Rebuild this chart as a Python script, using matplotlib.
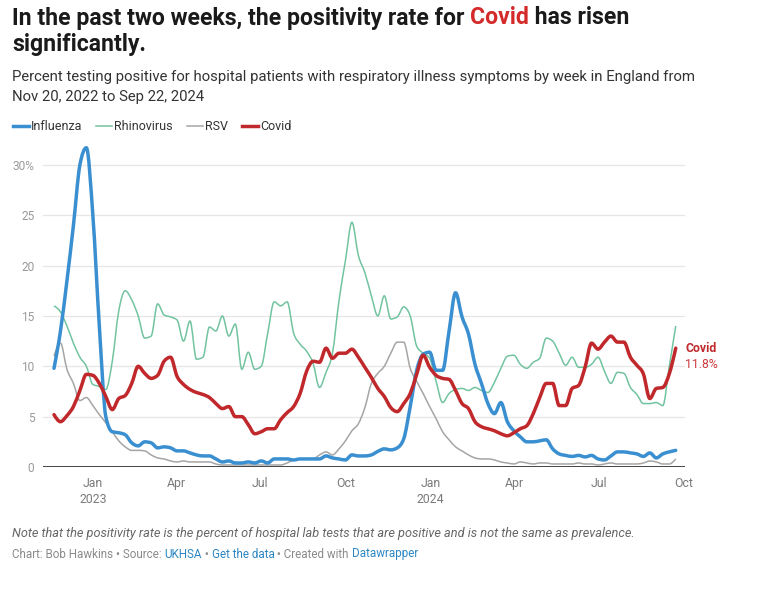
import numpy as np
import pandas as pd
import matplotlib
matplotlib.use("Agg")
import matplotlib.pyplot as plt
import matplotlib.dates as mdates
from matplotlib.lines import Line2D
from matplotlib.path import Path
from matplotlib.patches import PathPatch

plt.rcParams['font.family'] = ['Roboto', 'DejaVu Sans']

# weekly data, Nov 20 2022 .. Sep 22 2024
weeks = pd.date_range("2022-11-20", periods=97, freq="7D")

influenza = [9.8, 13.5, 18.5, 24.0, 30.0, 31.7, 25.0, 14.0, 5.0, 3.5,
             3.4, 3.2, 2.4, 2.1, 2.5, 2.4, 1.9, 2.0, 1.9, 1.6,
             1.6, 1.4, 1.2, 1.1, 1.1, 0.8, 0.5, 0.6, 0.4, 0.4,
             0.5, 0.4, 0.6, 0.4, 0.8, 0.8, 0.8, 0.7, 0.8, 0.8,
             0.8, 0.8, 1.1, 0.9, 0.8, 0.7, 1.2, 1.1, 1.1, 1.2,
             1.55, 1.8, 1.7, 1.9, 2.8, 6.0, 9.6, 11.2, 11.4, 9.6,
             9.6, 13.5, 17.3, 14.9, 13.2, 10.2, 8.3, 6.3, 5.3, 6.4,
             4.5, 3.6, 3.0, 2.5, 2.5, 2.6, 2.7, 1.8, 1.3, 1.15,
             1.05, 1.15, 1.0, 1.15, 0.8, 0.7, 1.1, 1.5, 1.5, 1.4,
             1.3, 1.05, 1.4, 0.9, 1.3, 1.5, 1.65]

rhinovirus = [16.0, 15.4, 14.0, 12.3, 10.9, 10.0, 8.2, 8.0, 7.7, 10.5,
              15.5, 17.5, 16.6, 15.0, 12.8, 13.0, 16.2, 15.1, 14.9, 14.6,
              12.5, 14.5, 10.7, 10.9, 13.9, 13.5, 15.0, 13.0, 14.2, 9.7,
              11.4, 9.7, 10.0, 13.3, 16.4, 16.0, 16.4, 13.3, 12.2, 11.5,
              10.3, 7.9, 9.4, 11.3, 16.5, 20.5, 24.3, 21.0, 19.3, 17.0,
              15.0, 17.0, 14.7, 14.9, 15.9, 15.0, 12.0, 11.3, 10.8, 8.5,
              6.4, 7.3, 7.7, 7.8, 7.6, 7.9, 7.6, 7.4, 8.4, 9.8,
              11.0, 11.1, 10.2, 9.8, 10.4, 10.8, 12.8, 12.5, 11.3, 10.1,
              10.9, 9.9, 9.9, 10.2, 10.9, 9.5, 8.3, 9.4, 9.3, 7.9,
              7.2, 6.3, 6.3, 6.4, 6.1, 10.0, 14.0]

rsv = [11.0, 12.3, 9.7, 8.3, 6.6, 6.9, 6.1, 5.2, 4.4, 3.5,
       2.6, 2.0, 1.65, 1.65, 1.6, 1.2, 0.9, 0.8, 0.6, 0.5,
       0.6, 0.5, 0.5, 0.5, 0.5, 0.3, 0.2, 0.2, 0.2, 0.2,
       0.2, 0.2, 0.2, 0.2, 0.2, 0.2, 0.4, 0.7, 0.8, 0.8,
       0.8, 1.2, 1.5, 1.2, 1.8, 2.6, 3.6, 4.3, 5.9, 8.3,
       9.3, 10.0, 11.3, 12.4, 12.4, 9.8, 8.5, 7.3, 6.0, 4.8,
       3.5, 2.7, 2.0, 1.6, 1.2, 0.9, 0.8, 0.8, 0.7, 0.5,
       0.4, 0.3, 0.5, 0.4, 0.3, 0.4, 0.4, 0.3, 0.3, 0.3,
       0.3, 0.4, 0.3, 0.3, 0.2, 0.3, 0.4, 0.3, 0.3, 0.3,
       0.3, 0.4, 0.6, 0.5, 0.3, 0.3, 0.8]

covid = [5.2, 4.5, 5.1, 6.0, 7.6, 9.2, 9.1, 8.3, 7.0, 5.7,
         6.8, 7.1, 8.3, 10.0, 9.3, 8.8, 9.1, 10.5, 10.9, 9.0,
         8.2, 7.7, 7.4, 7.2, 6.9, 6.3, 5.8, 6.0, 5.0, 5.0,
         4.2, 3.3, 3.5, 3.8, 3.8, 4.7, 5.4, 6.0, 7.3, 9.5,
         10.5, 10.4, 11.8, 10.8, 11.3, 11.3, 11.7, 10.9, 9.9, 8.9,
         7.8, 7.0, 5.9, 5.5, 6.3, 7.3, 9.2, 11.1, 9.9, 9.1,
         8.8, 8.7, 7.6, 6.3, 5.8, 4.5, 4.0, 3.8, 3.6, 3.3,
         3.1, 3.4, 3.8, 4.1, 5.3, 6.9, 8.3, 8.3, 6.1, 6.1,
         7.8, 8.1, 9.9, 12.3, 11.7, 12.4, 13.0, 12.4, 12.4, 10.9,
         10.1, 9.25, 6.8, 7.8, 7.9, 9.25, 11.8]

y_ticks = [0, 5, 10, 15, 20, 25, 30]
y_labels = ["0", "5", "10", "15", "20", "25", "30%"]
x_ticks = ["2023-01-01", "2023-04-01", "2023-07-01", "2023-10-01",
           "2024-01-01", "2024-04-01", "2024-07-01", "2024-10-01"]
x_labels = ["Jan\n2023", "Apr", "Jul", "Oct", "Jan\n2024", "Apr", "Jul", "Oct"]

C_FLU = "#3a8fd1"
C_RHINO = "#72c3a0"
C_RSV = "#a5a5a5"
C_COVID = "#c0282b"

W, H = 769, 600
fig = plt.figure(figsize=(W / 100, H / 100), dpi=100)
fig.patch.set_facecolor("white")


def fx(x):
    return x / W


def fy(y):
    return 1 - y / H


def smooth_line(ax, xs, ys, **kw):
    # monotone cubic curve through the weekly points (like the original chart's curved lines)
    x = np.asarray(xs, float)
    y = np.asarray(ys, float)
    h = np.diff(x)
    s = np.diff(y) / h
    t = np.zeros_like(y)
    for i in range(1, len(y) - 1):
        p = (s[i - 1] * h[i] + s[i] * h[i - 1]) / (h[i - 1] + h[i])
        t[i] = (np.sign(s[i - 1]) + np.sign(s[i])) * min(abs(s[i - 1]), abs(s[i]), 0.5 * abs(p))
    t[0] = (3 * s[0] - t[1]) / 2
    t[-1] = (3 * s[-1] - t[-2]) / 2
    verts = [(x[0], y[0])]
    codes = [Path.MOVETO]
    for i in range(len(x) - 1):
        dx = h[i] / 3
        verts += [(x[i] + dx, y[i] + dx * t[i]), (x[i + 1] - dx, y[i + 1] - dx * t[i + 1]), (x[i + 1], y[i + 1])]
        codes += [Path.CURVE4] * 3
    ax.add_patch(PathPatch(Path(verts, codes), fill=False, **kw))


ax = fig.add_axes([fx(42.7), fy(467), fx(685) - fx(42.7), (467 - 139.7) / H])

xw = mdates.date2num(weeks)
smooth_line(ax, xw, rsv, edgecolor=C_RSV, lw=1.1, joinstyle="round")
smooth_line(ax, xw, rhinovirus, edgecolor=C_RHINO, lw=1.1, joinstyle="round")
smooth_line(ax, xw, influenza, edgecolor=C_FLU, lw=2.5, joinstyle="round", capstyle="round")
smooth_line(ax, xw, covid, edgecolor=C_COVID, lw=2.5, joinstyle="round", capstyle="round")

ax.set_ylim(0, 32.5)
ax.set_xlim(mdates.date2num(pd.Timestamp("2022-11-07 19:00")),
            mdates.date2num(pd.Timestamp("2024-10-02")))

for s in ax.spines.values():
    s.set_visible(False)
for tk in y_ticks[1:]:
    ax.axhline(tk, color="#e6e6e6", lw=0.9, zorder=0)
ax.axhline(0, color="#444444", lw=1.4, zorder=5)

ax.set_yticks(y_ticks)
ax.set_yticklabels(y_labels)
ax.set_xticks([mdates.date2num(pd.Timestamp(d)) for d in x_ticks])
ax.set_xticklabels(x_labels, linespacing=1.35)
ax.tick_params(axis="y", length=0, pad=6, labelsize=8.6, labelcolor="#9a9a9a")
ax.tick_params(axis="x", length=0, pad=7, labelsize=8.8, labelcolor="#7a7a7a")
for lab in ax.get_xticklabels():
    lab.set_verticalalignment("top")

# end label
ax.annotate("Covid", xy=(xw[-1], covid[-1]), xytext=(7, 0), textcoords="offset points",
            color=C_COVID, fontsize=8.8, fontweight="bold", va="center", ha="left",
            annotation_clip=False)
ax.annotate("%.1f%%" % covid[-1], xy=(xw[-1], covid[-1]), xytext=(7, -11.5), textcoords="offset points",
            color="#cc3a3d", fontsize=8.8, va="center", ha="left", annotation_clip=False)

renderer = fig.canvas.get_renderer()


def text_width(txt, **kw):
    # width of a string in pixels, trailing spaces included
    t = fig.text(0, 0, txt + "|", **kw)
    w1 = t.get_window_extent(renderer=renderer).width
    t.set_text("|")
    w2 = t.get_window_extent(renderer=renderer).width
    t.remove()
    return w1 - w2


def rich(x, y, parts, va="center", **kw):
    # draw consecutive text pieces, each with its own colour
    done = ""
    for txt, style in parts:
        xs = x + text_width(done, **kw) if done else x
        fig.text(fx(xs), fy(y), txt, va=va, ha="left", **kw, **style)
        done += txt


rich(12, 18, [("In the past two weeks, the positivity rate for ", {"color": "#1a1a1a"}),
              ("Covid", {"color": "#d42a2a"}),
              (" has risen", {"color": "#1a1a1a"})], fontsize=16.6, fontweight="bold")
fig.text(fx(12), fy(45), "significantly.", va="center", ha="left",
         fontsize=16.6, fontweight="bold", color="#1a1a1a")

fig.text(fx(12), fy(77), "Percent testing positive for hospital patients with respiratory illness symptoms by week in England from",
         va="center", ha="left", fontsize=10.7, color="#333333")
fig.text(fx(12), fy(97), "Nov 20, 2022 to Sep 22, 2024",
         va="center", ha="left", fontsize=10.7, color="#333333")

# legend
legend_items = [("Influenza", C_FLU, 2.5), ("Rhinovirus", C_RHINO, 1.1),
                ("RSV", C_RSV, 1.1), ("Covid", C_COVID, 2.5)]
lx = 13
for name, col, lw in legend_items:
    fig.add_artist(Line2D([fx(lx), fx(lx + 16)], [fy(126), fy(126)], color=col, lw=lw))
    t = fig.text(fx(lx + 18), fy(126), name, va="center", ha="left", fontsize=9, color="#333333")
    lx = lx + 18 + t.get_window_extent(renderer=renderer).width + 14

fig.text(fx(12), fy(534),
         "Note that the positivity rate is the percent of hospital lab tests that are positive and is not the same as prevalence.",
         va="center", ha="left", fontsize=9.2, style="italic", color="#666666")

grey = {"color": "#8a8a8a"}
link = {"color": "#2b86c3"}
rich(12, 554, [("Chart: Bob Hawkins \u2022 Source: ", grey), ("UKHSA", link), (" \u2022 ", grey),
               ("Get the data", link), (" \u2022 Created with ", grey), ("Datawrapper", link)],
     fontsize=8.4)

fig.savefig("out.png", dpi=100, facecolor="white")
